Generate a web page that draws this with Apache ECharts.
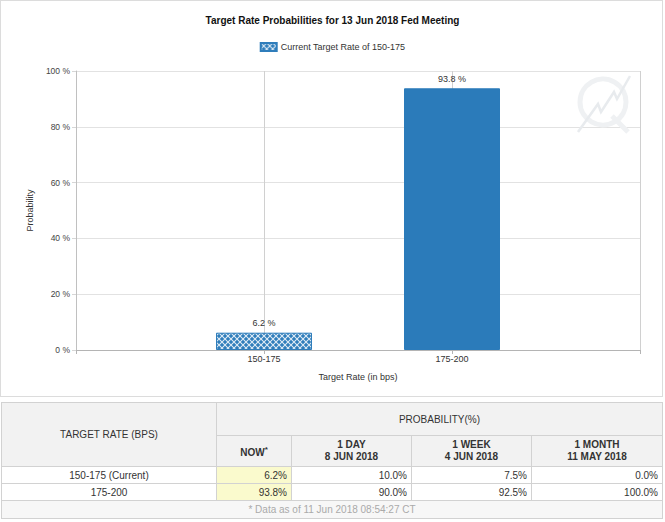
<!DOCTYPE html>
<html>
<head>
<meta charset="utf-8">
<script src="https://cdn.jsdelivr.net/npm/echarts@6/dist/echarts.min.js"></script>
<style>
  html, body { margin: 0; padding: 0; background: #ffffff; }
  body { width: 665px; height: 522px; position: relative; overflow: hidden; font-family: Arial, "Liberation Sans", sans-serif; }
  #chart { position: absolute; left: 0; top: 0; width: 665px; height: 396px; }
  #frame { position: absolute; left: 0; top: 0; width: 661px; height: 395px; border: 1px solid #dcdcdc; pointer-events: none; }
  #tbl { position: absolute; left: 1px; top: 402px; width: 661px; border-collapse: collapse; table-layout: fixed; font-size: 10px; color: #333; }
  #tbl td, #tbl th { border: 1px solid #d2d2d2; padding: 0 4px; overflow: hidden; white-space: nowrap; }
  #tbl th { background: #f2f2f2; font-weight: normal; text-align: center; }
  #tbl th.sub { font-weight: bold; line-height: 12px; }
  #tbl td { height: 16px; text-align: right; }
  #tbl td.lbl { text-align: center; }
  #tbl td.now { background: #fafacd; }
  #tbl td.note { background: #f7f7f7; text-align: center; color: #aaa; height: 17px; }
  sup { font-size: 8px; vertical-align: 4px; }
</style>
</head>
<body>
<div id="chart"></div>
<div id="frame"></div>
<table id="tbl"></table>
<script>
// ---- data ----
var chartTitle = 'Target Rate Probabilities for 13 Jun 2018 Fed Meeting';
var seriesName = 'Current Target Rate of 150-175';
var categories = ['150-175', '175-200'];
var probabilities = [6.2, 93.8];
var yTicks = [0, 20, 40, 60, 80, 100];

var tableRowLabels = ['150-175 (Current)', '175-200'];
var colNow = [6.2, 93.8];
var col1Day = [10.0, 90.0];
var col1Week = [7.5, 92.5];
var col1Month = [0.0, 100.0];
var colHeads = [['1 DAY', '8 JUN 2018'], ['1 WEEK', '4 JUN 2018'], ['1 MONTH', '11 MAY 2018']];
var footNote = '* Data as of 11 Jun 2018 08:54:27 CT';

// ---- pattern for current-rate bar ----
function makePattern() {
  var c = document.createElement('canvas');
  c.width = 6; c.height = 6;
  var g = c.getContext('2d');
  g.fillStyle = '#2f7dbb';
  g.fillRect(0, 0, 6, 6);
  g.strokeStyle = 'rgba(255,255,255,0.85)';
  g.lineWidth = 1.1;
  g.beginPath();
  g.moveTo(-1, -1); g.lineTo(7, 7);
  g.moveTo(7, -1); g.lineTo(-1, 7);
  g.stroke();
  return c;
}
var patternFill = { image: makePattern(), repeat: 'repeat' };
var solidBlue = '#2b7bba';

var axisCats = [''].concat(categories).concat(['']);
var barData = [null].concat(probabilities.map(function (v, i) {
  return i === 0 ? { value: v } : { value: v, itemStyle: { color: solidBlue, borderColor: solidBlue } };
})).concat([null]);

var chart = echarts.init(document.getElementById('chart'), null, { renderer: 'svg' });
chart.setOption({
  animation: false,
  backgroundColor: '#ffffff',
  title: {
    text: chartTitle, left: 'center', top: 10,
    textStyle: { fontSize: 10, fontWeight: 'bold', color: '#111', fontFamily: '"Liberation Sans Narrow", Arial, "Liberation Sans", sans-serif' }
  },
  legend: {
    data: [seriesName], top: 37, left: 'center',
    itemWidth: 16, itemHeight: 8, itemGap: 4,
    icon: 'rect',
    textStyle: { fontSize: 9, color: '#333', fontFamily: 'Arial, "Liberation Sans", sans-serif', padding: [0, 0, 0, -1] }
  },
  grid: { left: 76, right: 25, top: 71, bottom: 46 },
  xAxis: {
    type: 'category', data: axisCats, boundaryGap: false,
    name: 'Target Rate (in bps)', nameLocation: 'middle', nameGap: 22,
    nameTextStyle: { fontSize: 9, color: '#333' },
    axisLine: { lineStyle: { color: '#b4b4b4' } },
    axisTick: { show: true, length: 4, lineStyle: { color: '#b4b4b4' } },
    axisLabel: { fontSize: 9, color: '#333', margin: 4 },
    splitLine: { show: true, lineStyle: { color: '#d0d0d0' } }
  },
  yAxis: {
    type: 'value', min: yTicks[0], max: yTicks[yTicks.length - 1], interval: yTicks[1] - yTicks[0],
    name: 'Probability', nameLocation: 'middle', nameGap: 41,
    nameTextStyle: { fontSize: 9, color: '#333' },
    axisLine: { show: true, lineStyle: { color: '#c0c0c0' } },
    axisTick: { show: true, length: 4, lineStyle: { color: '#d6d6d6' } },
    axisLabel: { fontSize: 8.5, color: '#444', margin: 6, formatter: '{value} %' },
    splitLine: { lineStyle: { color: '#e2e2e2' } }
  },
  series: [{
    name: seriesName, type: 'bar', data: barData, barWidth: 96,
    itemStyle: { color: patternFill, borderColor: '#2f7dbb', borderWidth: 1 },
    label: { show: true, position: 'top', distance: 5, fontSize: 9, color: '#333', formatter: '{c} %' },
    z: 3
  }],
  graphic: [
    { type: 'circle', shape: { cx: 603, cy: 102, r: 23 }, style: { fill: 'none', stroke: '#eff1f3', lineWidth: 5 }, z: 1, silent: true },
    { type: 'polyline', shape: { points: [[578, 132], [598, 104], [601, 112], [614, 92], [617, 99], [630, 76]] }, style: { fill: 'none', stroke: '#e8ebee', lineWidth: 2.5 }, z: 1, silent: true },
    { type: 'line', shape: { x1: 612, y1: 116, x2: 628, y2: 132 }, style: { stroke: '#eff1f3', lineWidth: 5 }, z: 1, silent: true }
  ]
});

// ---- table ----
function pct(v) { return v.toFixed(1) + '%'; }
var html = '<colgroup><col style="width:215px"><col style="width:75px"><col style="width:120px"><col style="width:120px"><col style="width:131px"></colgroup>';
html += '<tr style="height:33px"><th rowspan="2">TARGET RATE (BPS)</th><th colspan="4">PROBABILITY(%)</th></tr>';
html += '<tr style="height:31px"><th class="sub">NOW<sup>*</sup></th>';
colHeads.forEach(function (h) { html += '<th class="sub">' + h[0] + '<br>' + h[1] + '</th>'; });
html += '</tr>';
tableRowLabels.forEach(function (lbl, i) {
  html += '<tr><td class="lbl">' + lbl + '</td><td class="now">' + pct(colNow[i]) + '</td><td>' + pct(col1Day[i]) + '</td><td>' + pct(col1Week[i]) + '</td><td>' + pct(col1Month[i]) + '</td></tr>';
});
html += '<tr><td class="note" colspan="5">' + footNote + '</td></tr>';
document.getElementById('tbl').innerHTML = html;
</script>
</body>
</html>
